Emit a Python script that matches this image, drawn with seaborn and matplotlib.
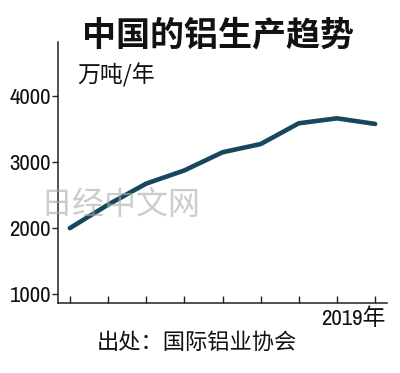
import matplotlib
matplotlib.use("Agg")
import matplotlib.pyplot as plt
import seaborn as sns
import pandas as pd

years = [2011, 2012, 2013, 2014, 2015, 2016, 2017, 2018, 2019]
production = [2000, 2355, 2675, 2875, 3150, 3275, 3590, 3665, 3580]
yticks = [1000, 2000, 3000, 4000]
title = "中国的铝生产趋势"
unit = "万吨/年"
last_label = "2019年"
source = "出处：国际铝业协会"
watermark = "日经中文网"

sns.set_theme(style="ticks")
plt.rcParams['font.family'] = ['Noto Sans CJK SC', 'DejaVu Sans']
narrow = ['Archivo Narrow', 'Noto Sans CJK SC', 'DejaVu Sans']

df = pd.DataFrame({"year": years, "value": production})

fig = plt.figure(figsize=(4.0, 3.73), dpi=100)
fig.patch.set_facecolor("white")
ax = fig.add_axes([0.145, 0.1877, 0.8225, 0.6993])
sns.lineplot(data=df, x="year", y="value", ax=ax, color="#17475f", linewidth=3.3)

ax.set_xlim(2010.69, 2019.31)
ax.set_ylim(865, 4820)
ax.set_xticks(years)
ax.set_xticklabels([])
ax.set_yticks(yticks)
ax.set_yticklabels([str(v) for v in yticks], family=narrow, fontsize=16.5)
ax.tick_params(axis='x', direction='in', length=5, width=1, color='#222222')
ax.tick_params(axis='y', direction='out', length=4, width=1, color='#222222', pad=1, labelcolor='#111111')
ax.set_xlabel("")
ax.set_ylabel("")
for s in ['top', 'right']:
    ax.spines[s].set_visible(False)
for s in ['left', 'bottom']:
    ax.spines[s].set_color('#222222')
    ax.spines[s].set_linewidth(1.1)
ax.set_facecolor("white")

fig.text(0.545, 0.906, title, ha='center', va='center', fontsize=24.5, fontweight='black', color='#111111')
fig.text(0.1925, 0.799, unit, ha='left', va='center', fontsize=16.5, color='#111111')
fig.text(0.9625, 0.147, last_label, ha='right', va='center', fontsize=16.5, color='#111111', family=narrow)
fig.text(0.4925, 0.083, source, ha='center', va='center', fontsize=16, color='#111111')
fig.text(0.1, 0.45, watermark, ha='left', va='center', fontsize=23, color='#aaaaaa', alpha=0.6)

fig.savefig("out.png", dpi=100, facecolor="white")
